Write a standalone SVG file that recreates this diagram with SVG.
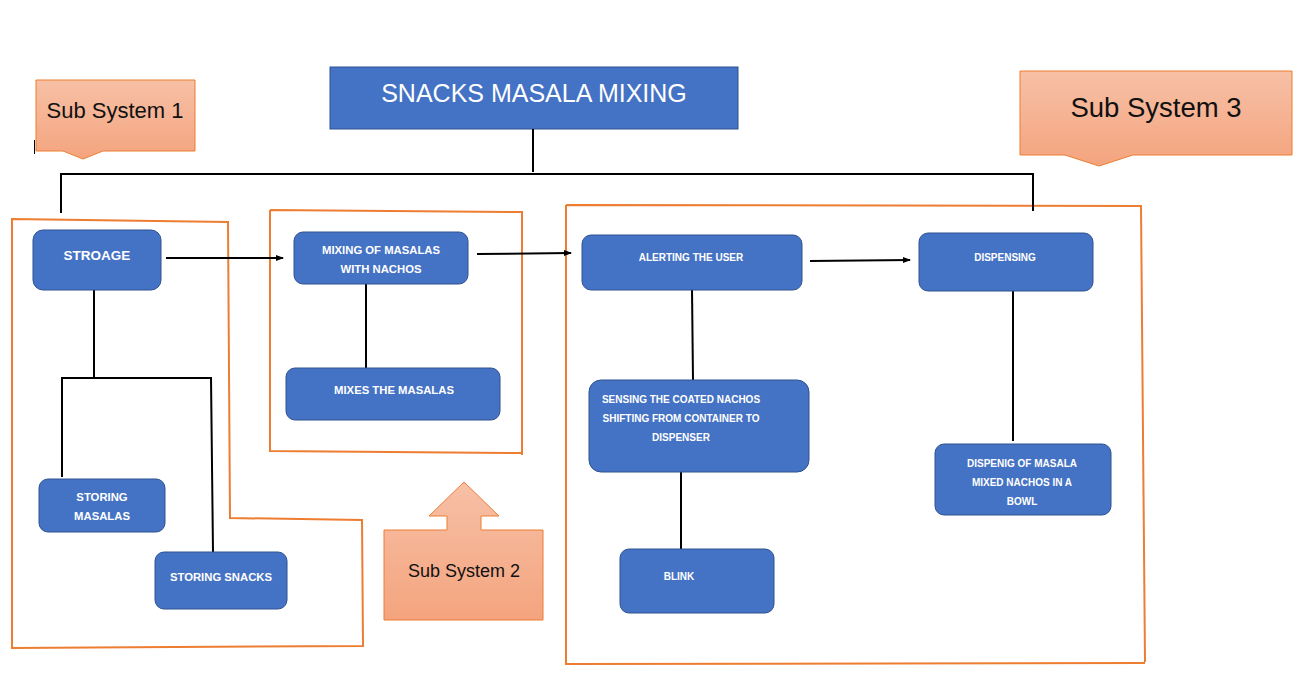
<svg xmlns="http://www.w3.org/2000/svg" width="1311" height="686" viewBox="0 0 1311 686">
<style>
.node{fill:#4472C4;stroke:#2F528F;stroke-width:1}
.nt{fill:#fff;font-family:"Liberation Sans",Arial,sans-serif;font-weight:bold;font-size:11.3px;text-anchor:middle}
.nt2{fill:#fff;font-family:"Liberation Sans",Arial,sans-serif;font-weight:bold;font-size:10px;text-anchor:middle}
.call{fill:url(#cg);stroke:#ED7D31;stroke-width:1}
.ct{fill:#111;font-family:"Liberation Sans",Arial,sans-serif;text-anchor:middle}
.bound{fill:none;stroke:#ED7D31;stroke-width:2}
.con{fill:none;stroke:#000;stroke-width:2}
</style>
<defs>
<linearGradient id="cg" x1="0" y1="0" x2="0" y2="1">
<stop offset="0" stop-color="#F7C0A6"/>
<stop offset="1" stop-color="#F4A47E"/>
</linearGradient>
<marker id="ah" markerWidth="8" markerHeight="8" refX="7" refY="4" orient="auto" markerUnits="userSpaceOnUse">
<path d="M0,1 L8,4 L0,7 Z" fill="#000"/>
</marker>
</defs>
<rect width="1311" height="686" fill="#fff"/>

<g id="boundaries">
<path class="bound" d="M12,219 L228,222 L230,518 L362,520 L363,646 L12,648 Z"/>
<path class="bound" d="M270,210 L522,212 L522,455 M270,210 L270,451 L522,453"/>
<path class="bound" d="M566,205 L1141,206 L1145,662 M566,205 L566,664 L1145,663"/>
</g>

<g id="title">
<rect x="330" y="67" width="408" height="62" fill="#4472C4" stroke="#2F528F" stroke-width="1"/>
<text x="534" y="102" fill="#fff" font-family="'Liberation Sans',Arial,sans-serif" font-size="25" text-anchor="middle">SNACKS MASALA MIXING</text>
</g>

<g id="callout1">
<path class="call" d="M36,80 H195 V151 H103 L83,159 L63,151 H36 Z"/>
<text class="ct" x="115" y="118" style="font-size:22px">Sub System 1</text>
<line x1="34.5" y1="140" x2="34.5" y2="154" stroke="#000" stroke-width="1"/>
</g>

<g id="callout2">
<path class="call" d="M384,530 H447 V516 H429 L464,482 L499,516 H481 V530 H543 V620 H384 Z"/>
<text class="ct" x="464" y="577" style="font-size:18px">Sub System 2</text>
</g>

<g id="callout3">
<path class="call" d="M1020,71 H1292 V155 H1133 L1099,166 L1065,155 H1020 Z"/>
<text class="ct" x="1156" y="117" style="font-size:27.5px">Sub System 3</text>
</g>

<g id="connectors">
<path class="con" d="M533,129 V172"/>
<path class="con" d="M61,213 V174 H1033 V211"/>
<path class="con" d="M94,290 V378"/>
<path class="con" d="M62,477 V378 H211 L213,552"/>
<path class="con" d="M366,284 V368"/>
<path class="con" d="M692,289 L693,380"/>
<path class="con" d="M681,472 V551"/>
<path class="con" d="M1013,291 V441"/>
<line class="con" x1="166" y1="258" x2="283" y2="258" marker-end="url(#ah)"/>
<line class="con" x1="477" y1="254" x2="571" y2="253" marker-end="url(#ah)"/>
<line class="con" x1="810" y1="261" x2="910" y2="260" marker-end="url(#ah)"/>
</g>

<g id="n-stroage">
<rect class="node" x="33" y="230" width="128" height="60" rx="10"/>
<text class="nt" x="97" y="260" style="font-size:13.5px">STROAGE</text>
</g>
<g id="n-mixing">
<rect class="node" x="294" y="232" width="174" height="52" rx="9"/>
<text class="nt" x="381" y="254">MIXING OF MASALAS</text>
<text class="nt" x="381" y="273">WITH NACHOS</text>
</g>
<g id="n-mixes">
<rect class="node" x="286" y="368" width="214" height="52" rx="9"/>
<text class="nt" x="394" y="394">MIXES THE MASALAS</text>
</g>
<g id="n-storing-masalas">
<rect class="node" x="39" y="479" width="126" height="53" rx="9"/>
<text class="nt" x="102" y="501">STORING</text>
<text class="nt" x="102" y="520">MASALAS</text>
</g>
<g id="n-storing-snacks">
<rect class="node" x="155" y="552" width="132" height="57" rx="9"/>
<text class="nt" x="221" y="581">STORING SNACKS</text>
</g>
<g id="n-alerting">
<rect class="node" x="582" y="235" width="220" height="55" rx="9"/>
<text class="nt2" x="691" y="261">ALERTING THE USER</text>
</g>
<g id="n-dispensing">
<rect class="node" x="919" y="233" width="174" height="58" rx="9"/>
<text class="nt2" x="1005" y="261">DISPENSING</text>
</g>
<g id="n-sensing">
<rect class="node" x="589" y="380" width="220" height="92" rx="12"/>
<text class="nt2" x="681" y="403">SENSING THE COATED NACHOS</text>
<text class="nt2" x="681" y="422">SHIFTING FROM CONTAINER TO</text>
<text class="nt2" x="681" y="441">DISPENSER</text>
</g>
<g id="n-blink">
<rect class="node" x="620" y="549" width="154" height="64" rx="9"/>
<text class="nt2" x="679" y="580">BLINK</text>
</g>
<g id="n-dispenig">
<rect class="node" x="935" y="444" width="176" height="71" rx="9"/>
<text class="nt2" x="1022" y="467">DISPENIG OF MASALA</text>
<text class="nt2" x="1022" y="486">MIXED NACHOS IN A</text>
<text class="nt2" x="1022" y="505">BOWL</text>
</g>
</svg>
